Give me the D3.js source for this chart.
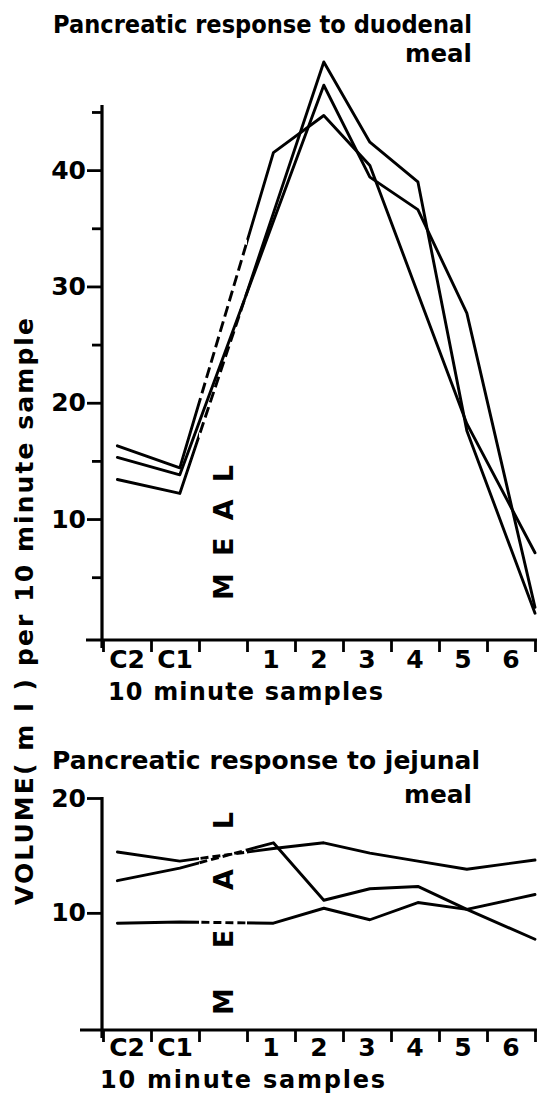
<!DOCTYPE html>
<html>
<head>
<meta charset="utf-8">
<script src="https://cdn.jsdelivr.net/npm/d3@7"></script>
<style>
  html, body { margin: 0; padding: 0; background: #fff; }
  svg { display: block; }
  text { font-family: "DejaVu Sans", sans-serif; font-weight: bold; fill: #000; }
</style>
</head>
<body>
<svg id="fig" width="545" height="1097"></svg>
<script>
// x-axis slots: two control samples, the meal period, six post-meal samples
const slotLabels = ["C2", "C1", "", "1", "2", "3", "4", "5", "6"];
// the eight collected samples and the minute at which each one is plotted
const samples = ["C2", "C1", "1", "2", "3", "4", "5", "6"];
const sampleMinute = [3, 16, 35.5, 46, 55.6, 65.6, 75.8, 90];
const mealWindow = [20, 30];

// duodenal meal: volume (ml) per 10-minute sample, three subjects
const duodenalA = [16.3, 14.4, 41.5, 44.7, 40.4, 29.4, 18.2, 7.1];
const duodenalB = [15.3, 13.8, 35.6, 47.3, 39.4, 36.6, 27.7, 2.4];
const duodenalC = [13.4, 12.2, 36.3, 49.3, 42.4, 39.0, 17.6, 1.9];

// jejunal meal: volume (ml) per 10-minute sample, three subjects
const jejunalA = [15.3, 14.5, 15.6, 16.1, 15.2, 14.5, 13.8, 14.6];
const jejunalB = [12.8, 13.9, 16.1, 11.1, 12.1, 12.3, 10.3, 7.7];
const jejunalC = [9.1, 9.2, 9.1, 10.4, 9.4, 10.9, 10.3, 11.6];

// y-axis ticks
const duodenalMinor = [5, 15, 25, 35, 45];
const duodenalMajor = [10, 20, 30, 40];
const jejunalMajor = [10, 20];

const W = 545, H = 1097;
const svg = d3.select("#fig");

const x = d3.scaleLinear().domain([0, 90]).range([103, 535]);
const slotEdges = d3.range(0, 91, 10);
const slotMids = d3.range(5, 90, 10);

// clip regions: outside the meal window lines are solid, inside they are dashed
const defs = svg.append("defs");
const solidClip = defs.append("clipPath").attr("id", "solid-part");
solidClip.append("rect").attr("x", 0).attr("y", 0)
  .attr("width", x(mealWindow[0])).attr("height", H);
solidClip.append("rect").attr("x", x(mealWindow[1])).attr("y", 0)
  .attr("width", W - x(mealWindow[1])).attr("height", H);
defs.append("clipPath").attr("id", "meal-part")
  .append("rect").attr("x", x(mealWindow[0])).attr("y", 0)
  .attr("width", x(mealWindow[1]) - x(mealWindow[0])).attr("height", H);

function styleAxis(g, size) {
  g.select(".domain").remove();
  g.selectAll(".tick line").attr("stroke", "#000").attr("stroke-width", 2.8);
  g.selectAll("text")
    .style("font-family", '"DejaVu Sans", sans-serif')
    .style("font-weight", "bold")
    .style("font-size", size + "px")
    .attr("fill", "#000");
}

function panel(cfg) {
  const y = d3.scaleLinear().domain(cfg.domain).range(cfg.range);
  const g = svg.append("g");
  const x0 = x(0) - 1;
  const baseY = cfg.range[0];

  // axis lines
  g.append("line").attr("x1", x0).attr("x2", x0)
    .attr("y1", cfg.axisTop).attr("y2", baseY + 8)
    .attr("stroke", "#000").attr("stroke-width", 3.2);
  g.append("line").attr("x1", cfg.xAxisStart).attr("x2", x(90) + 2)
    .attr("y1", baseY).attr("y2", baseY)
    .attr("stroke", "#000").attr("stroke-width", 3.2);

  // y ticks
  if (cfg.minor.length) {
    g.append("g").attr("transform", `translate(${x0},0)`)
      .call(d3.axisLeft(y).tickValues(cfg.minor).tickSize(10).tickFormat(""))
      .call(a => styleAxis(a, 25));
  }
  g.append("g").attr("transform", `translate(${x0},0)`)
    .call(d3.axisLeft(y).tickValues(cfg.major).tickSize(15).tickPadding(1).tickFormat(d3.format("d")))
    .call(a => styleAxis(a, 25));

  // x ticks at slot edges, labels in the middle of each slot
  g.append("g").attr("transform", `translate(0,${baseY})`)
    .call(d3.axisBottom(x).tickValues(slotEdges).tickSize(12).tickFormat(""))
    .call(a => styleAxis(a, 25));
  g.selectAll(".slot-label").data(slotMids).join("text")
    .attr("class", "slot-label")
    .attr("x", d => x(d))
    .attr("y", cfg.slotLabelY)
    .attr("text-anchor", "middle")
    .style("font-size", "25px")
    .text((d, i) => slotLabels[i]);

  // vertical MEAL marker in the meal slot
  g.append("text")
    .attr("transform", `translate(${x(25) + 10},${cfg.mealText[0]}) rotate(-90)`)
    .attr("textLength", cfg.mealText[0] - cfg.mealText[1])
    .attr("lengthAdjust", "spacing")
    .style("font-size", "27px")
    .text("MEAL");

  // response lines
  const line = d3.line().x(d => x(d.t)).y(d => y(d.v));
  cfg.series.forEach(s => {
    const pts = s.values.map((v, i) => ({ t: sampleMinute[i], v, name: samples[i] }));
    const common = p => p.attr("fill", "none").attr("stroke", "#000")
      .attr("stroke-width", 2.9).attr("stroke-linejoin", "round").attr("stroke-linecap", "round");
    if (s.dashed) {
      g.append("path").datum(pts).attr("d", line).call(common)
        .attr("clip-path", "url(#solid-part)");
      g.append("path").datum(pts).attr("d", line).call(common)
        .attr("stroke-linecap", "butt")
        .attr("stroke-dasharray", cfg.dash)
        .attr("clip-path", "url(#meal-part)");
    } else {
      g.append("path").datum(pts).attr("d", line).call(common);
    }
  });

  // x-axis title
  g.append("text")
    .attr("x", cfg.xTitle[0]).attr("y", cfg.xTitle[1])
    .attr("textLength", cfg.xTitle[2]).attr("lengthAdjust", "spacing")
    .style("font-size", "24px")
    .text("10 minute samples");
}

// titles
function title(lines) {
  lines.forEach(l => {
    svg.append("text").attr("x", l[1]).attr("y", l[2])
      .attr("textLength", l[3]).attr("lengthAdjust", "spacingAndGlyphs")
      .style("font-size", "25px").text(l[0]);
  });
}
title([
  ["Pancreatic response to duodenal", 53, 33, 419],
  ["meal", 405, 62, 67],
  ["Pancreatic response to jejunal", 52, 769, 428],
  ["meal", 404, 803, 68]
]);

panel({
  domain: [-0.4, 45.6], range: [640, 105], axisTop: 105, xAxisStart: 86,
  minor: duodenalMinor, major: duodenalMajor,
  slotLabelY: 668, mealText: [600, 465], dash: "11,5",
  xTitle: [108, 700, 275],
  series: [
    { values: duodenalA, dashed: true },
    { values: duodenalB, dashed: false },
    { values: duodenalC, dashed: true }
  ]
});

panel({
  domain: [-0.2, 20], range: [1030, 798], axisTop: 797, xAxisStart: 80,
  minor: [], major: jejunalMajor,
  slotLabelY: 1056, mealText: [1015, 812], dash: "8,4",
  xTitle: [100, 1088, 285],
  series: [
    { values: jejunalA, dashed: true },
    { values: jejunalB, dashed: true },
    { values: jejunalC, dashed: true }
  ]
});

// y-axis title shared by both panels
svg.append("text")
  .attr("transform", "translate(33,905) rotate(-90)")
  .attr("textLength", 587).attr("lengthAdjust", "spacing")
  .style("font-size", "25px")
  .text("VOLUME( m l ) per 10 minute sample");
</script>
</body>
</html>
